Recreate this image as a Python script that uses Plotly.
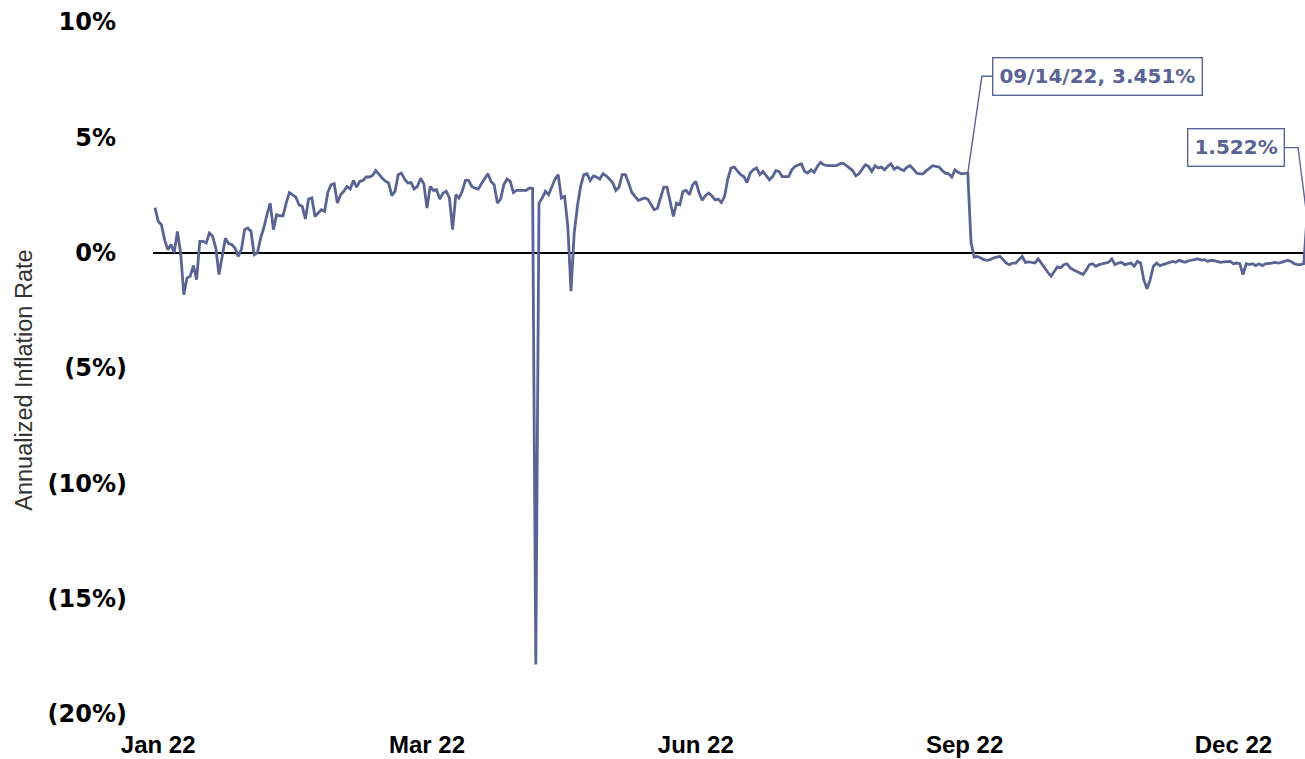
import pandas as pd
import plotly.graph_objects as go

# ---------------- data (daily annualized inflation rate, %) ----------------
start_date = "2022-01-03"

jan_mar = [1.95, 1.36, 1.21, 0.56, 0.13, 0.35, 0.0, 0.92, 0.0, -1.82,
           -1.1, -1.02, -0.56, -1.17, 0.49, 0.49, 0.42, 0.85, 0.71, 0.2,
           -0.95, -0.16, 0.63, 0.39, 0.35, 0.2, -0.16, 0.13, 1.0, 1.07,
           0.92, -0.09, -0.01, 0.63, 1.07, 1.65, 2.15, 1.0, 1.65, 1.6,
           1.6, 2.15, 2.61, 2.51, 2.41, 2.08, 2.01, 1.46, 2.32, 2.37,
           1.57, 1.72, 1.86, 1.79, 2.61, 2.94, 2.99, 2.15, 2.51, 2.66,
           2.87]
mar_apr = [2.76, 3.13, 2.84, 3.09, 3.13, 3.28, 3.28, 3.35, 3.56, 3.38,
           3.23, 3.1, 3.02, 2.47, 2.66, 3.38, 3.45, 3.19, 3.02, 3.04,
           2.76, 2.87, 3.23, 2.99, 1.93, 2.87, 2.70, 2.73, 2.32, 2.58,
           2.66, 2.37, 1.0, 2.51, 2.37, 2.66, 3.13, 3.13, 2.87, 2.80,
           2.76, 2.99, 3.23, 3.42, 3.09, 2.94, 2.15, 2.32, 2.94, 3.19,
           3.09, 2.61, 2.70, 2.70, 2.72, 2.70, 2.80,
           2.78, -17.85, 2.15]
may_jul = [2.37, 2.66, 2.51, 2.87, 3.19, 3.38, 2.37, 2.44, 1.14, -1.67,
           0.85, 2.01, 2.87, 3.38, 3.42, 3.13, 3.33, 3.28, 3.19, 3.42,
           3.33, 3.19, 3.04, 2.70, 2.84, 3.38, 3.38, 3.02, 2.61, 2.44,
           2.27, 2.32, 2.37, 2.32, 2.08, 1.86, 1.93, 2.44, 2.84, 2.84,
           2.22, 1.57, 2.15, 2.08, 2.66, 2.70, 2.51, 2.94, 3.09, 2.61,
           2.27, 2.47, 2.58, 2.47, 2.29, 2.32, 2.18, 2.44, 3.19, 3.67,
           3.71, 3.56]
jul_sep = [3.38, 3.30, 3.04, 3.45, 3.6, 3.67, 3.38, 3.52, 3.33, 3.16,
           3.30, 3.56, 3.52, 3.30, 3.3, 3.30, 3.59, 3.74, 3.8, 3.85,
           3.52, 3.45, 3.59, 3.48, 3.74, 3.91, 3.81, 3.77, 3.77, 3.77,
           3.77, 3.85, 3.88, 3.78, 3.67, 3.56, 3.33, 3.42, 3.62, 3.81,
           3.74, 3.52, 3.77, 3.67, 3.71, 3.59, 3.74, 3.85, 3.62, 3.71,
           3.62, 3.56, 3.71, 3.77, 3.62, 3.45, 3.42, 3.42, 3.55, 3.67,
           3.77,
           3.74, 3.71, 3.56, 3.45, 3.42, 3.28, 3.59, 3.48, 3.42, 3.42,
           3.451]
sep_oct = [0.45,
           -0.19, -0.16, -0.23, -0.30, -0.33, -0.30, -0.23, -0.2, -0.16, -0.30,
           -0.45, -0.52, -0.45, -0.45, -0.30, -0.16, -0.42, -0.4, -0.42, -0.45,
           -0.27, -0.48, -0.66, -0.85, -1.02, -0.81, -0.62, -0.66, -0.52, -0.48,
           -0.66, -0.74, -0.81, -0.91, -0.95, -0.76, -0.52, -0.48, -0.59, -0.52,
           -0.48, -0.45, -0.42, -0.27, -0.52, -0.45]
nov_dec = [-0.42, -0.52, -0.5, -0.45, -0.59, -0.38, -0.45, -1.17, -1.57, -1.17,
           -0.59, -0.45, -0.56, -0.52, -0.48, -0.42, -0.38, -0.42, -0.33, -0.38,
           -0.42, -0.35, -0.33, -0.30, -0.27, -0.32, -0.30, -0.38, -0.33, -0.35,
           -0.38, -0.42, -0.4, -0.38, -0.38, -0.48, -0.45, -0.48, -0.95, -0.48,
           -0.52, -0.48, -0.56, -0.48, -0.56, -0.48, -0.48, -0.45, -0.42, -0.45,
           -0.42, -0.38, -0.33, -0.38, -0.48, -0.52, -0.52, -0.48,
           1.522]

inflation_pct = jan_mar + mar_apr + may_jul + jul_sep + sep_oct + nov_dec
dates = pd.date_range(start_date, periods=len(inflation_pct), freq="D")

x_tick_dates = ["2022-01-04", "2022-03-29", "2022-06-21", "2022-09-13", "2022-12-06"]
x_tick_labels = ["Jan 22", "Mar 22", "Jun 22", "Sep 22", "Dec 22"]
y_tick_values = [10, 5, 0, -5, -10, -15, -20]

callout_date = pd.Timestamp("2022-09-14")

# ---------------- styling ----------------
LINE = "#5b6394"
BOLD_FONT = "DejaVu Sans"
X_FONT = "Liberation Sans"

def y_label(v):
    if v < 0:
        return f"({-v}%)"
    return f"{v}%<span style='color:rgba(0,0,0,0)'>)</span>"

y_tick_text = [y_label(v) for v in y_tick_values]

series = pd.Series(inflation_pct, index=dates)
c_val = series[callout_date]
last_date = dates[-1]
last_val = series.iloc[-1]
day = pd.Timedelta(days=1)

fig = go.Figure()
fig.add_trace(go.Scatter(x=dates, y=inflation_pct, mode="lines",
                         line=dict(color=LINE, width=2.8), hoverinfo="skip"))

# leader line for callout 1 (elbow)
c1_y = c_val + 4.2
c1_elbow = callout_date + 4.4 * day
c1_box = callout_date + 7.6 * day
fig.add_trace(go.Scatter(x=[callout_date, c1_elbow, c1_box], y=[c_val, c1_y, c1_y],
                         mode="lines", line=dict(color=LINE, width=1.4), hoverinfo="skip"))
# leader line for callout 2
c2_y = last_val + 3.03
c2_elbow = last_date - 2.8 * day
c2_box = last_date - 6.9 * day
fig.add_trace(go.Scatter(x=[c2_box, c2_elbow, last_date], y=[c2_y, c2_y, last_val],
                         mode="lines", line=dict(color=LINE, width=1.4), hoverinfo="skip"))

fig.add_annotation(x=c1_box, y=c1_y, xref="x", yref="y", xanchor="left", yanchor="middle",
                   text=f"{callout_date:%m/%d/%y}, {c_val:.3f}%", showarrow=False,
                   font=dict(family=BOLD_FONT, size=20, color=LINE, weight="bold"),
                   bordercolor=LINE, borderwidth=1.4, borderpad=6, bgcolor="white")
fig.add_annotation(x=c2_box, y=c2_y, xref="x", yref="y", xanchor="right", yanchor="middle",
                   text=f"{last_val:.3f}%", showarrow=False,
                   font=dict(family=BOLD_FONT, size=20, color=LINE, weight="bold"),
                   bordercolor=LINE, borderwidth=1.4, borderpad=6, bgcolor="white")

# rotated y-axis title
fig.add_annotation(x=-0.112, y=0.483, xref="paper", yref="paper", xanchor="center",
                   yanchor="middle", textangle=-90, showarrow=False,
                   text="Annualized Inflation Rate",
                   font=dict(family="Liberation Sans", size=23.5, color="#333333"))

fig.update_layout(
    width=1305, height=759,
    margin=dict(l=153, r=0, t=22, b=45, autoexpand=False),
    paper_bgcolor="white", plot_bgcolor="white",
    showlegend=False,
    xaxis=dict(type="date", automargin=False,
               range=[dates[0] - 0.625 * day, last_date - 0.625 * day],
               tickvals=x_tick_dates, ticktext=x_tick_labels,
               showgrid=False, zeroline=False, showline=False, ticks="",
               ticklabelstandoff=14,
               tickfont=dict(family=X_FONT, size=24, color="black", weight="bold")),
    yaxis=dict(range=[-20, 10], automargin=False,
               tickvals=y_tick_values, ticktext=y_tick_text,
               showgrid=False, zeroline=True, zerolinecolor="black", zerolinewidth=2,
               showline=False, ticks="", ticklabelstandoff=25,
               tickfont=dict(family=BOLD_FONT, size=24, color="black", weight="bold")),
)

fig.write_html("out.html", config={"displayModeBar": False},
               post_script="document.body.style.margin='0px';document.body.style.overflow='hidden';")
